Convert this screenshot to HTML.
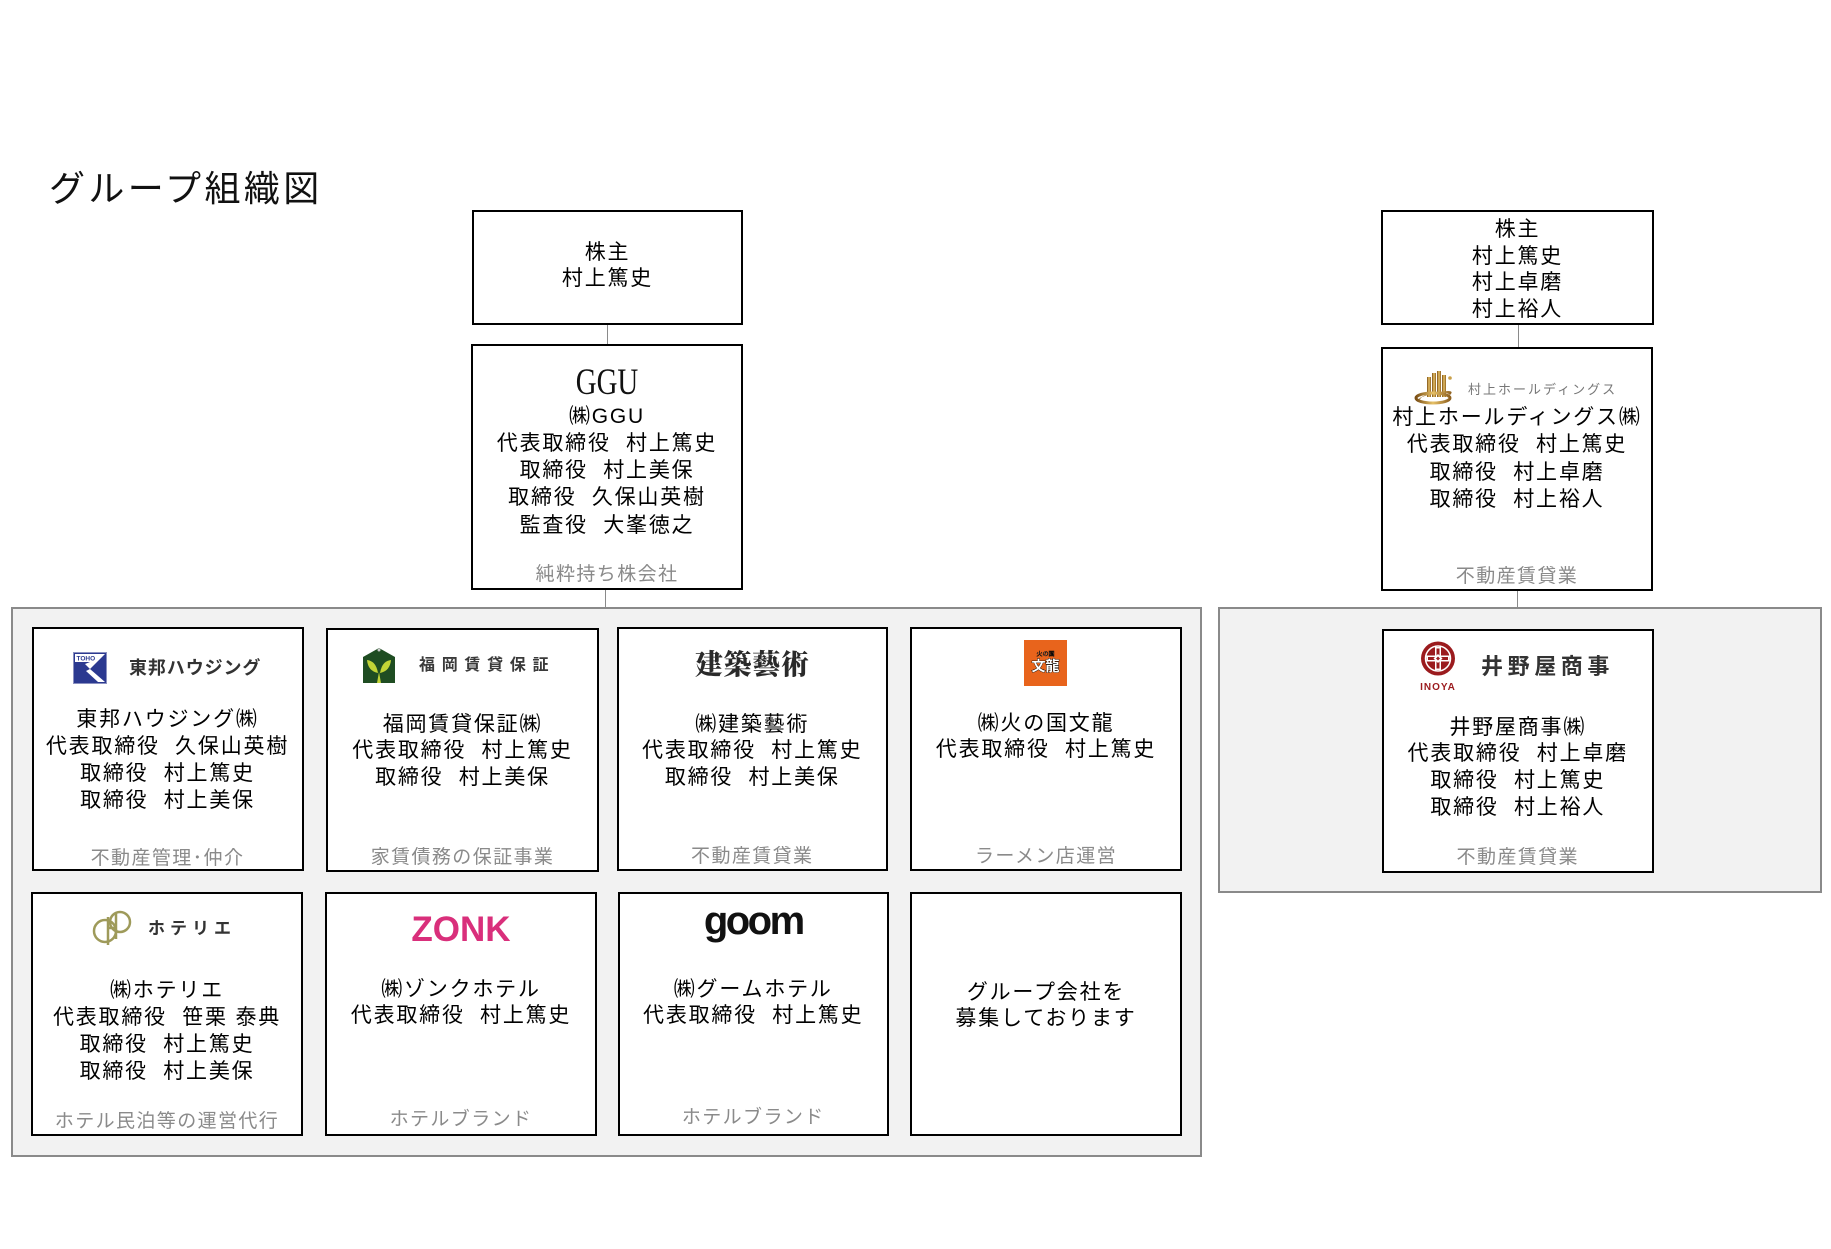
<!DOCTYPE html>
<html><head><meta charset="utf-8">
<style>
*{margin:0;padding:0;box-sizing:border-box}
body{width:1831px;height:1249px;background:#fff;position:relative;overflow:hidden;font-family:"Liberation Sans","Noto Sans CJK JP",sans-serif}
.a{position:absolute}
.box{position:absolute;border:2px solid #000;background:#fff}
.panel{position:absolute;border:2px solid #8a8a8a;background:#f2f2f2}
.ln{position:absolute;background:#8a8a8a;width:1px}
.t{position:absolute;text-align:center;font-size:21px;letter-spacing:1.8px;line-height:26.8px;white-space:pre;color:#000}
.g{position:absolute;text-align:center;font-size:19px;letter-spacing:1.4px;line-height:24px;white-space:pre;color:#8a8a8a}
</style></head><body>

<div class="a" style="left:49px;top:169px;font-size:36px;line-height:40px;letter-spacing:3.4px;color:#111;white-space:pre">グループ組織図</div>

<!-- connectors -->
<div class="ln" style="left:607px;top:325px;height:20px"></div>
<div class="ln" style="left:605px;top:589px;height:19px"></div>
<div class="ln" style="left:1518px;top:325px;height:23px"></div>
<div class="ln" style="left:1517px;top:590px;height:18px"></div>

<!-- panels -->
<div class="panel" style="left:11px;top:607px;width:1191px;height:550px"></div>
<div class="panel" style="left:1218px;top:607px;width:604px;height:286px"></div>

<!-- top left shareholder -->
<div class="box" style="left:472px;top:210px;width:271px;height:115px"></div>
<div class="t" style="left:472px;top:239.6px;width:271px;line-height:26px">株主
村上篤史</div>

<!-- GGU -->
<div class="box" style="left:471px;top:344px;width:272px;height:246px"></div>
<div class="a" style="left:471px;top:362.5px;width:272px;text-align:center;font-family:'Liberation Serif',serif;font-size:37px;line-height:40px;color:#111;transform:scaleX(0.78)">GGU</div>
<div class="t" style="left:471px;top:403.2px;width:272px;line-height:27.1px">㈱GGU
代表取締役  村上篤史
取締役  村上美保
取締役  久保山英樹
監査役  大峯徳之</div>
<div class="g" style="left:471px;top:563px;width:272px">純粋持ち株会社</div>

<!-- top right shareholder -->
<div class="box" style="left:1381px;top:210px;width:273px;height:115px"></div>
<div class="t" style="left:1381px;top:216.8px;width:273px;line-height:26.8px">株主
村上篤史
村上卓磨
村上裕人</div>

<!-- holdings -->
<div class="box" style="left:1381px;top:347px;width:272px;height:244px"></div>
<svg class="a" style="left:1414px;top:369px" width="46" height="36" viewBox="0 0 46 36">
<defs><linearGradient id="gd" x1="0" x2="1" y1="0" y2="0"><stop offset="0" stop-color="#7a4e14"/><stop offset=".5" stop-color="#e6c066"/><stop offset="1" stop-color="#8e6020"/></linearGradient></defs>
<rect x="13" y="8" width="4" height="20" fill="url(#gd)"/>
<rect x="18" y="4" width="4" height="24" fill="url(#gd)"/>
<rect x="23" y="2" width="4" height="26" fill="url(#gd)"/>
<rect x="28" y="6" width="4" height="22" fill="url(#gd)"/>
<path d="M3 33 Q6 24 34 22 Q40 22 36 26 Q30 20 8 28 Q5 31 3 33Z" fill="url(#gd)"/>
<ellipse cx="19" cy="29" rx="17" ry="5" fill="none" stroke="url(#gd)" stroke-width="3"/>
<circle cx="36" cy="9" r="1.8" fill="#c9a04a"/>
</svg>
<div class="a" style="left:1468px;top:381px;font-size:13px;line-height:18px;letter-spacing:2px;color:#777;white-space:pre">村上ホールディングス</div>
<div class="t" style="left:1381px;top:403.6px;width:272px;line-height:27.6px">村上ホールディングス㈱
代表取締役  村上篤史
取締役  村上卓磨
取締役  村上裕人</div>
<div class="g" style="left:1381px;top:565px;width:272px">不動産賃貸業</div>

<!-- card1 TOHO -->
<div class="box" style="left:31.5px;top:627px;width:272px;height:244px"></div>
<svg class="a" style="left:73px;top:652px" width="34" height="32" viewBox="0 0 34 32">
<rect x="0.5" y="0.5" width="33" height="31" fill="#2b3990" stroke="#8a90c0"/>
<rect x="2" y="2" width="20" height="8" fill="#fff"/>
<text x="3.5" y="8.6" font-family="Liberation Sans" font-size="6.5" font-weight="bold" fill="#2b3990">TOHO</text>
<polygon points="22,2 32,2 17,17 12,12 22,8" fill="#fff"/>
<polygon points="17,17 32,30 25,30 13,19" fill="#fff"/>
</svg>
<div class="a" style="left:129px;top:656px;font-size:18px;font-weight:bold;line-height:24px;letter-spacing:0.9px;color:#333;white-space:pre">東邦ハウジング</div>
<div class="t" style="left:31.5px;top:705.6px;width:272px;line-height:27px">東邦ハウジング㈱
代表取締役  久保山英樹
取締役  村上篤史
取締役  村上美保</div>
<div class="g" style="left:31.5px;top:847px;width:272px">不動産管理･仲介</div>

<!-- card2 Fukuoka -->
<div class="box" style="left:326px;top:628px;width:273px;height:244px"></div>
<svg class="a" style="left:362px;top:647px" width="34" height="37" viewBox="0 0 34 37">
<polygon points="17,1 33,10 33,36 1,36 1,10" fill="#1f4d22"/>
<circle cx="17" cy="3" r="1.5" fill="#ccc"/>
<path d="M16 26 Q6 24 5 13 Q14 14 16 26Z" fill="#c2d436"/>
<path d="M18 26 Q28 24 29 13 Q20 14 18 26Z" fill="#c2d436"/>
<path d="M15 36 L17 25 L19 36Z" fill="#c2d436"/>
</svg>
<div class="a" style="left:419px;top:654px;font-size:16px;font-weight:bold;line-height:24px;letter-spacing:6.7px;color:#3a3a3a;white-space:pre">福岡賃貸保証</div>
<div class="t" style="left:326px;top:711.6px;width:273px;line-height:26.5px">福岡賃貸保証㈱
代表取締役  村上篤史
取締役  村上美保</div>
<div class="g" style="left:326px;top:846px;width:273px">家賃債務の保証事業</div>

<!-- card3 Kenchiku -->
<div class="box" style="left:616.5px;top:627px;width:271.5px;height:244px"></div>
<div class="a" style="left:616.5px;top:646px;width:271.5px;text-align:center;font-family:'Noto Serif CJK SC',serif;font-weight:900;font-size:28px;line-height:34px;letter-spacing:0.7px;color:#2a2a2a">建築藝術</div>
<div class="t" style="left:616.5px;top:711.6px;width:271.5px;line-height:26.5px">㈱建築藝術
代表取締役  村上篤史
取締役  村上美保</div>
<div class="g" style="left:616.5px;top:845px;width:271.5px">不動産賃貸業</div>

<!-- card4 Bunryu -->
<div class="box" style="left:910px;top:627px;width:272px;height:244px"></div>
<svg class="a" style="left:1024px;top:640px" width="43" height="46" viewBox="0 0 43 46">
<rect width="43" height="46" fill="#e8641c"/>
<text x="21.5" y="16" text-anchor="middle" font-family="Noto Sans CJK JP" font-size="6" fill="#fff" stroke="#000" stroke-width="0.4">火の国</text>
<text x="21.5" y="31" text-anchor="middle" font-family="Noto Sans CJK JP" font-size="14" font-weight="bold" fill="#fff" stroke="#000" stroke-width="0.8" paint-order="stroke">文龍</text>
</svg>
<div class="t" style="left:910px;top:710.6px;width:272px">㈱火の国文龍
代表取締役  村上篤史</div>
<div class="g" style="left:910px;top:845px;width:272px">ラーメン店運営</div>

<!-- card5 Hoteliers -->
<div class="box" style="left:31px;top:892px;width:272px;height:244px"></div>
<svg class="a" style="left:91px;top:909px" width="44" height="38" viewBox="0 0 44 38">
<circle cx="14" cy="22" r="11" fill="none" stroke="#9e9a5a" stroke-width="2.5"/>
<circle cx="29" cy="13" r="10" fill="none" stroke="#9e9a5a" stroke-width="2.5"/>
<line x1="17" y1="8" x2="17" y2="36" stroke="#9e9a5a" stroke-width="2.5"/>
<line x1="25" y1="4" x2="25" y2="30" stroke="#9e9a5a" stroke-width="2.5"/>
<line x1="17" y1="19" x2="25" y2="19" stroke="#9e9a5a" stroke-width="2.5"/>
</svg>
<div class="a" style="left:148px;top:917px;font-size:17px;font-weight:bold;line-height:24px;letter-spacing:5px;color:#333;white-space:pre">ホテリエ</div>
<div class="t" style="left:31px;top:976.6px;width:272px;line-height:27.3px">㈱ホテリエ
代表取締役  笹栗 泰典
取締役  村上篤史
取締役  村上美保</div>
<div class="g" style="left:31px;top:1110px;width:272px">ホテル民泊等の運営代行</div>

<!-- card6 ZONK -->
<div class="box" style="left:325px;top:892px;width:272px;height:244px"></div>
<div class="a" style="left:325px;top:909.9px;width:272px;text-align:center;font-family:'Liberation Sans',sans-serif;font-weight:bold;font-size:35px;line-height:40px;color:#d92f7b">ZONK</div>
<div class="t" style="left:325px;top:976.6px;width:272px">㈱ゾンクホテル
代表取締役  村上篤史</div>
<div class="g" style="left:325px;top:1108px;width:272px">ホテルブランド</div>

<!-- card7 goom -->
<div class="box" style="left:617.5px;top:892px;width:271.5px;height:244px"></div>
<div class="a" style="left:617.5px;top:899px;width:271.5px;text-align:center;font-family:'Liberation Sans',sans-serif;font-weight:bold;font-size:40px;line-height:44px;letter-spacing:-2.5px;color:#111">goom</div>
<div class="t" style="left:617.5px;top:976.6px;width:271.5px">㈱グームホテル
代表取締役  村上篤史</div>
<div class="g" style="left:617.5px;top:1106px;width:271.5px">ホテルブランド</div>

<!-- card8 recruiting -->
<div class="box" style="left:910px;top:892px;width:272px;height:244px"></div>
<div class="t" style="left:910px;top:979.6px;width:272px;line-height:26px">グループ会社を
募集しております</div>

<!-- Inoya -->
<div class="box" style="left:1381.5px;top:629px;width:272.5px;height:244px"></div>
<svg class="a" style="left:1416px;top:641px" width="44" height="51" viewBox="0 0 44 51">
<circle cx="22" cy="17.5" r="17" fill="#9b1b1e"/>
<circle cx="22" cy="17.5" r="12.5" fill="none" stroke="#fff" stroke-width="1.5"/>
<rect x="19" y="6" width="6" height="23" fill="#fff"/>
<rect x="10.5" y="14.5" width="23" height="6" fill="#fff"/>
<rect x="20.5" y="7.5" width="3" height="20" fill="#9b1b1e"/>
<rect x="12" y="16" width="20" height="3" fill="#9b1b1e"/>
<polygon points="22,13 26.5,17.5 22,22 17.5,17.5" fill="#fff"/>
<polygon points="22,15.5 24,17.5 22,19.5 20,17.5" fill="#9b1b1e"/>
<text x="22" y="49" text-anchor="middle" font-family="Liberation Sans" font-size="10" font-weight="bold" letter-spacing="1" fill="#9b1b1e">INOYA</text>
</svg>
<div class="a" style="left:1481px;top:654px;font-size:22px;font-weight:bold;line-height:26px;letter-spacing:4.6px;color:#333;white-space:pre">井野屋商事</div>
<div class="t" style="left:1381.5px;top:714.6px;width:272.5px;line-height:26.7px">井野屋商事㈱
代表取締役  村上卓磨
取締役  村上篤史
取締役  村上裕人</div>
<div class="g" style="left:1381.5px;top:846px;width:272.5px">不動産賃貸業</div>

</body></html>
